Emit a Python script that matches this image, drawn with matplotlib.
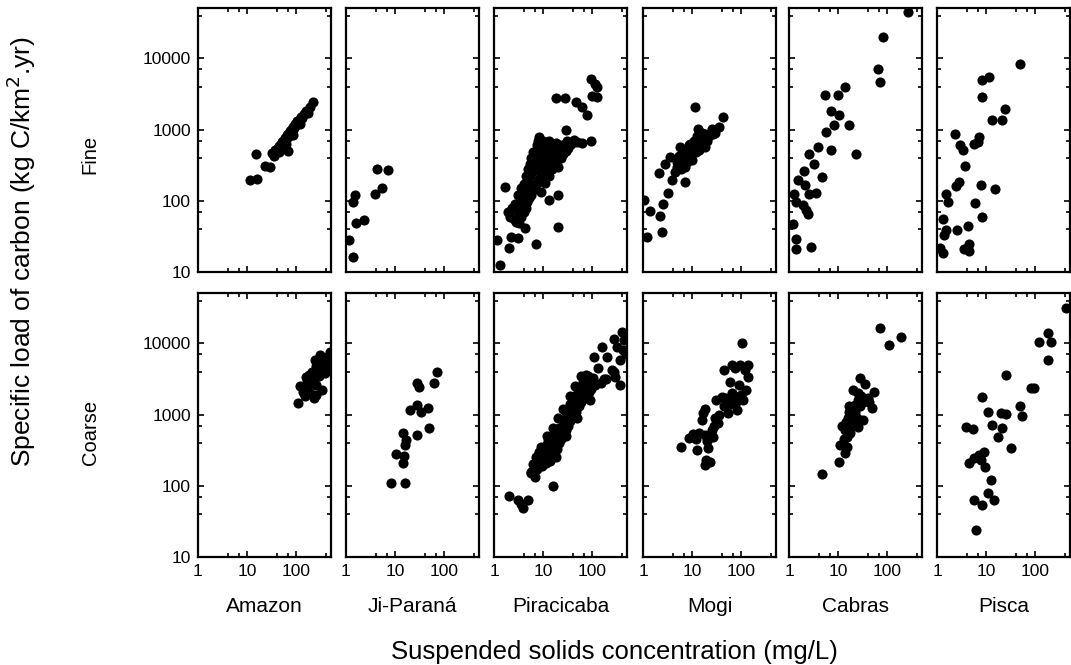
import matplotlib
matplotlib.use("Agg")
import matplotlib.pyplot as plt
from matplotlib.ticker import FixedLocator, NullFormatter, FixedFormatter

plt.rcParams['font.family'] = ['Liberation Sans', 'DejaVu Sans']

rivers = ["Amazon", "Ji-Paraná", "Piracicaba", "Mogi", "Cabras", "Pisca"]
rows = ["Fine", "Coarse"]
x_ticks = [1, 10, 100]
x_ticklabels = ["1", "10", "100"]
y_ticks = [10, 100, 1000, 10000]
y_ticklabels = ["10", "100", "1000", "10000"]

# ---------------- Fine fraction ----------------
fine_amazon_x = [11.7, 16, 15.5, 23, 30, 33, 36, 38, 40, 42, 45, 47, 50, 52, 55, 58, 60, 63, 66, 69, 70,
                 73, 76, 80, 84, 88, 92, 96, 100, 105, 110, 118, 125, 135, 145, 160, 175, 190, 220,
                 44, 62, 85, 120]
fine_amazon_y = [195, 205, 452, 309, 299, 470, 430, 510, 480, 560, 590, 520, 620, 660, 700, 640, 760, 720,
                 830, 497, 880, 800, 950, 1000, 900, 1100, 1050, 1200, 1150, 1300, 1250, 1400, 1500, 1450,
                 1650, 1800, 1700, 2050, 2450,
                 480, 620, 850, 1200]

fine_jiparana_x = [1.17, 1.37, 1.52, 1.41, 1.6, 2.3, 3.9, 5.3, 4.2, 7.2]
fine_jiparana_y = [28.5, 16, 120, 96, 49, 53, 126, 153, 284, 275]

fine_piracicaba_x = [1.3, 1.17, 2.0, 1.67, 1.94, 2.17, 3.1, 7.2, 4.2, 13, 20, 20, 9.1, 18.8, 28, 46, 63, 80,
                     93, 126, 126, 63, 93, 29, 34, 100, 115,
                     2.1, 2.3, 2.5, 2.7, 2.85, 3.0, 3.15, 3.25, 3.4, 3.55, 3.6, 3.8, 4.0, 4.0, 4.2, 4.4,
                     4.4, 4.6, 4.85, 4.75, 5.0, 5.3, 5.2, 5.5, 5.8, 5.7, 6.0, 6.3, 6.2, 6.5, 6.8, 6.6, 7.0,
                     7.4, 7.1, 7.5, 7.9, 7.6, 8.0, 8.4, 8.2, 8.7, 9.2, 9.0, 9.5, 10.0, 9.9, 10.5, 11.1,
                     10.9, 11.5, 12.1, 11.8, 12.5, 13.2, 13.2, 14, 14.8, 15, 16, 16, 17, 18, 18.5, 19.5, 20,
                     21, 22, 23, 25, 26, 28, 29, 31, 33, 35, 38, 42, 50]
fine_piracicaba_y = [12.4, 28, 22, 157, 70, 31, 30, 24.5, 41, 102, 120, 43, 133, 2740, 2740, 2450, 2090, 1590,
                     5070, 4000, 2900, 640, 690, 1000, 640, 3000, 4300,
                     60, 80, 55, 90, 50, 75, 120, 48, 90, 150, 60, 110, 170, 70, 130, 220,
                     80, 160, 280, 95, 190, 330, 110, 220, 400, 120, 250, 480, 140, 300, 450, 150, 350,
                     600, 170, 280, 700, 180, 400, 780, 200, 320, 550, 220, 450, 700, 240, 380, 650,
                     180, 300, 500, 260, 420, 700, 220, 350, 600, 280, 450, 300, 520, 650, 350, 480, 300,
                     420, 600, 400, 550, 450, 620, 500, 700, 550, 650, 620, 720, 680]

fine_mogi_x = [1.06, 1.2, 1.4, 2.25, 2.4, 2.1, 2.6, 3.3, 2.8, 3.5, 3.9, 4.9, 5.7, 7.2, 7.8, 9.1, 11.5, 13.4,
               18, 25, 17, 20, 27, 42, 18.4, 7.2, 4.5, 5.0, 5.5, 6.0, 6.5, 7.0, 8.0, 8.5, 9.5, 10, 10.5, 11,
               12, 12.5, 13, 14, 15, 16, 22, 30, 35]
fine_mogi_y = [102, 31, 72, 61, 36, 247, 91, 129, 330, 415, 195, 300, 575, 300, 460, 630, 2090, 1035,
               870, 1035, 870, 700, 870, 1480, 575, 186, 250, 350, 420, 280, 380, 520, 350, 600, 450, 380, 550,
               700, 480, 800, 620, 520, 750, 900, 800, 900, 1100]

fine_cabras_x = [270, 82, 66, 72, 5.4, 10, 14, 7.3, 10.3, 8.1, 17, 5.7, 3.9, 7.3, 23, 2.5, 3.2, 4.7, 2.0, 1.55,
                 2.1, 3.5, 2.5, 1.26, 1.4, 1.9, 2.2, 2.4, 1.2, 1.4, 1.4, 2.8]
fine_cabras_y = [45300, 19700, 7000, 4690, 3050, 3050, 4000, 1840, 1590, 1150, 1150, 930, 575, 515, 452, 452,
                 324, 217, 263, 195, 166, 129, 123, 125, 96, 87, 74, 66, 47, 29, 21, 22.6]

fine_pisca_x = [49, 8.4, 11.5, 8.4, 24.4, 13.5, 21, 2.3, 2.9, 3.4, 5.7, 7.2, 6.9, 3.7, 7.8, 15.2, 6.0, 8.4,
                2.8, 2.4, 1.55, 1.7, 1.3, 1.5, 1.4, 2.5, 4.2, 1.13, 1.3, 3.55, 4.4, 4.4]
fine_pisca_y = [8300, 4950, 5400, 2890, 1920, 1385, 1385, 880, 605, 515, 625, 795, 680, 309, 166, 148, 93, 60,
                186, 160, 126, 96, 56, 39, 33, 39, 44, 22, 18.6, 21, 25, 20]

# ---------------- Coarse fraction ----------------
coarse_amazon_x = [110, 118, 162, 190, 258, 240, 303, 385, 490, 330, 223, 144, 450, 281, 200, 170, 350, 420,
                   380, 300, 260, 460, 400, 215, 180, 140, 320, 275, 500, 480, 250, 150, 230]
coarse_amazon_y = [1440, 2530, 3400, 2000, 1890, 5860, 6900, 4700, 7630, 2230, 3080, 2230, 5200, 4240, 2700,
                   2900, 6000, 6500, 3800, 3500, 2600, 4500, 5500, 4000, 3600, 2100, 5000, 5200, 6500, 5500,
                   4800, 1800, 1700]

coarse_jiparana_x = [8.4, 15.7, 14.5, 10.6, 15, 15.7, 14.5, 17, 28, 20, 28, 34, 47, 49, 28, 31, 61, 71]
coarse_jiparana_y = [111, 111, 208, 282, 258, 376, 550, 436, 513, 1160, 1365, 1100, 1230, 650, 2750, 2460,
                     2750, 4000]

coarse_piracicaba_x = [2.0, 3.1, 3.9, 4.9, 3.5, 15.7, 5.7, 6.7, 7.8, 12.4,
                       108, 160, 200, 275, 400, 320, 370, 275, 370, 250, 288, 171, 74, 450, 420, 480,
                       5.8, 6.2, 6.8, 7.2, 7.6, 8.0, 8.4, 8.7, 9.3, 9.5, 10, 10.5, 10.7, 11.3, 11.5, 12, 12.6,
                       12.6, 13.4, 13.3, 14, 14.7, 15, 16, 16.2, 17, 17.8, 18, 19, 19, 20, 21, 21.3, 22.7,
                       23, 24, 25, 25.2, 26.8, 26.8, 28, 29.3, 30, 32, 32.5, 34, 35.5, 36, 38, 38, 40, 42,
                       44, 46, 48, 50, 52, 54, 58, 59, 62, 65, 68, 72, 74, 78, 82, 85, 91, 97, 103, 115,
                       9, 12, 16, 20, 25, 35, 45, 60, 14, 18, 30, 50, 90, 150, 190, 130]
coarse_piracicaba_y = [72, 63, 49, 63, 55, 98, 155, 135, 270, 395,
                       6500, 8960, 6500, 11700, 14500, 9000, 5900, 4000, 2600, 4240, 3400, 3140, 3600, 11000,
                       8000, 7000,
                       150, 200, 180, 250, 170, 230, 300, 200, 280, 190, 260, 350, 220, 320, 210, 300, 420,
                       250, 380, 230, 330, 480, 280, 420, 300, 400, 560, 350, 500, 330, 460, 650, 400, 580,
                       450, 650, 850, 500, 750, 550, 800, 1100, 600, 900, 700, 1000, 1400, 800, 1200, 900,
                       1300, 1800, 1000, 1500, 1100, 1700, 2300, 1300, 1900, 1500, 2200, 2900, 1700, 2500,
                       1900, 2800, 3500, 2100, 3000, 2300, 3300, 2600,
                       350, 500, 650, 900, 1200, 1800, 2500, 3500, 220, 250, 500, 900, 1600, 2800, 3200, 4500]

coarse_mogi_x = [5.9, 10.6, 12.8, 18.3, 15.8, 18.3, 16.5, 18.3, 21.5, 23, 19, 27, 34, 31.5, 40, 55, 50, 69,
                 83, 75, 100, 126, 44, 59, 64, 94, 138, 138, 104, 8.5, 12, 14, 20, 25, 28, 30, 36, 45, 60,
                 65, 80, 90, 110, 120, 75]
coarse_mogi_y = [348, 540, 315, 1180, 850, 197, 1050, 515, 340, 214, 230, 490, 760, 1600, 1790, 1050, 1700,
                 1900, 1170, 1450, 1900, 2240, 4230, 2900, 4980, 4980, 4980, 3330, 10200, 470, 450, 560,
                 420, 600, 700, 900, 1000, 1300, 1400, 2000, 1500, 2600, 1600, 4200, 4500]

coarse_cabras_x = [4.6, 72, 107, 192, 10.3, 11.2, 13.6, 15.2, 14.2, 21, 22.4, 19.8, 28, 35, 53, 43, 49, 31.6,
                   25, 17.8, 16.5, 12, 13, 14, 16, 18, 19, 20, 22, 24, 26, 28, 30, 17, 15, 25, 33, 40]
coarse_cabras_y = [147, 16700, 9500, 12100, 218, 376, 288, 490, 790, 1000, 1365, 2240, 3250, 2700, 2100, 1510,
                   1230, 840, 680, 550, 1100, 700, 450, 600, 900, 700, 1200, 800, 1100, 900, 1600, 1300,
                   1800, 1300, 350, 2000, 1500, 1700]

coarse_pisca_x = [425, 120, 187, 209, 187, 81, 95, 25, 49, 54, 8.4, 10.8, 20, 26, 13.5, 21.5, 17.8, 32, 3.85,
                  5.3, 4.4, 5.7, 7.2, 9.1, 9.5, 7.8, 12.5, 11.2, 14.5, 8.2, 5.7, 6.3]
coarse_pisca_y = [31000, 10500, 13800, 10500, 5860, 2350, 2400, 3620, 1300, 960, 1790, 1100, 1040, 1020, 715,
                  645, 490, 340, 680, 620, 210, 245, 272, 300, 186, 230, 120, 80, 63, 54, 63, 24]

data = {
    ("Fine", "Amazon"): (fine_amazon_x, fine_amazon_y),
    ("Fine", "Ji-Paraná"): (fine_jiparana_x, fine_jiparana_y),
    ("Fine", "Piracicaba"): (fine_piracicaba_x, fine_piracicaba_y),
    ("Fine", "Mogi"): (fine_mogi_x, fine_mogi_y),
    ("Fine", "Cabras"): (fine_cabras_x, fine_cabras_y),
    ("Fine", "Pisca"): (fine_pisca_x, fine_pisca_y),
    ("Coarse", "Amazon"): (coarse_amazon_x, coarse_amazon_y),
    ("Coarse", "Ji-Paraná"): (coarse_jiparana_x, coarse_jiparana_y),
    ("Coarse", "Piracicaba"): (coarse_piracicaba_x, coarse_piracicaba_y),
    ("Coarse", "Mogi"): (coarse_mogi_x, coarse_mogi_y),
    ("Coarse", "Cabras"): (coarse_cabras_x, coarse_cabras_y),
    ("Coarse", "Pisca"): (coarse_pisca_x, coarse_pisca_y),
}

W, H = 1071, 665
fig = plt.figure(figsize=(W / 100, H / 100), dpi=100)

lefts = [198, 346, 494, 643, 789, 937]
pw = 133
row_top = {"Fine": 8, "Coarse": 293}
ph = 264

minor_x = [4, 7, 40, 70, 400]
minor_y = [40, 70, 400, 700, 4000, 7000, 40000]

for r, row in enumerate(rows):
    for c, river in enumerate(rivers):
        ax = fig.add_axes([lefts[c] / W, 1 - (row_top[row] + ph) / H, pw / W, ph / H])
        x, y = data[(row, river)]
        ax.plot(x, y, 'o', color='black', ms=7.3, mec='black', mew=0, clip_on=True)
        ax.set_xscale('log')
        ax.set_yscale('log')
        ax.set_xlim(1, 515)
        ax.set_ylim(10, 51000)
        ax.xaxis.set_major_locator(FixedLocator(x_ticks))
        ax.yaxis.set_major_locator(FixedLocator(y_ticks))
        ax.xaxis.set_minor_locator(FixedLocator(minor_x))
        ax.yaxis.set_minor_locator(FixedLocator(minor_y))
        ax.xaxis.set_minor_formatter(NullFormatter())
        ax.yaxis.set_minor_formatter(NullFormatter())
        if r == 1:
            ax.xaxis.set_major_formatter(FixedFormatter(x_ticklabels))
        else:
            ax.xaxis.set_major_formatter(NullFormatter())
        if c == 0:
            ax.yaxis.set_major_formatter(FixedFormatter(y_ticklabels))
        else:
            ax.yaxis.set_major_formatter(NullFormatter())
        ax.tick_params(which='both', direction='in', top=True, right=True, width=1.2, colors='black',
                       labelsize=12.5)
        ax.tick_params(which='major', length=4.5, pad=5)
        ax.tick_params(which='minor', length=2.8)
        for s in ax.spines.values():
            s.set_linewidth(1.6)
        if r == 1:
            fig.text((lefts[c] + pw / 2) / W, 1 - 607 / H, river, ha='center', va='center', fontsize=15)

fig.text(90 / W, 1 - 154 / H, "Fine", rotation=90, ha='center', va='center', fontsize=14.5)
fig.text(90 / W, 1 - 432 / H, "Coarse", rotation=90, ha='center', va='center', fontsize=14.5)
fig.text(21 / W, 1 - 252 / H, "Specific load of carbon (kg C/km$^{2}$.yr)", rotation=90,
         ha='center', va='center', fontsize=19)
fig.text(614 / W, 1 - 652 / H, "Suspended solids concentration (mg/L)", ha='center', va='center',
         fontsize=18.5)

fig.savefig("out.png", dpi=100)
